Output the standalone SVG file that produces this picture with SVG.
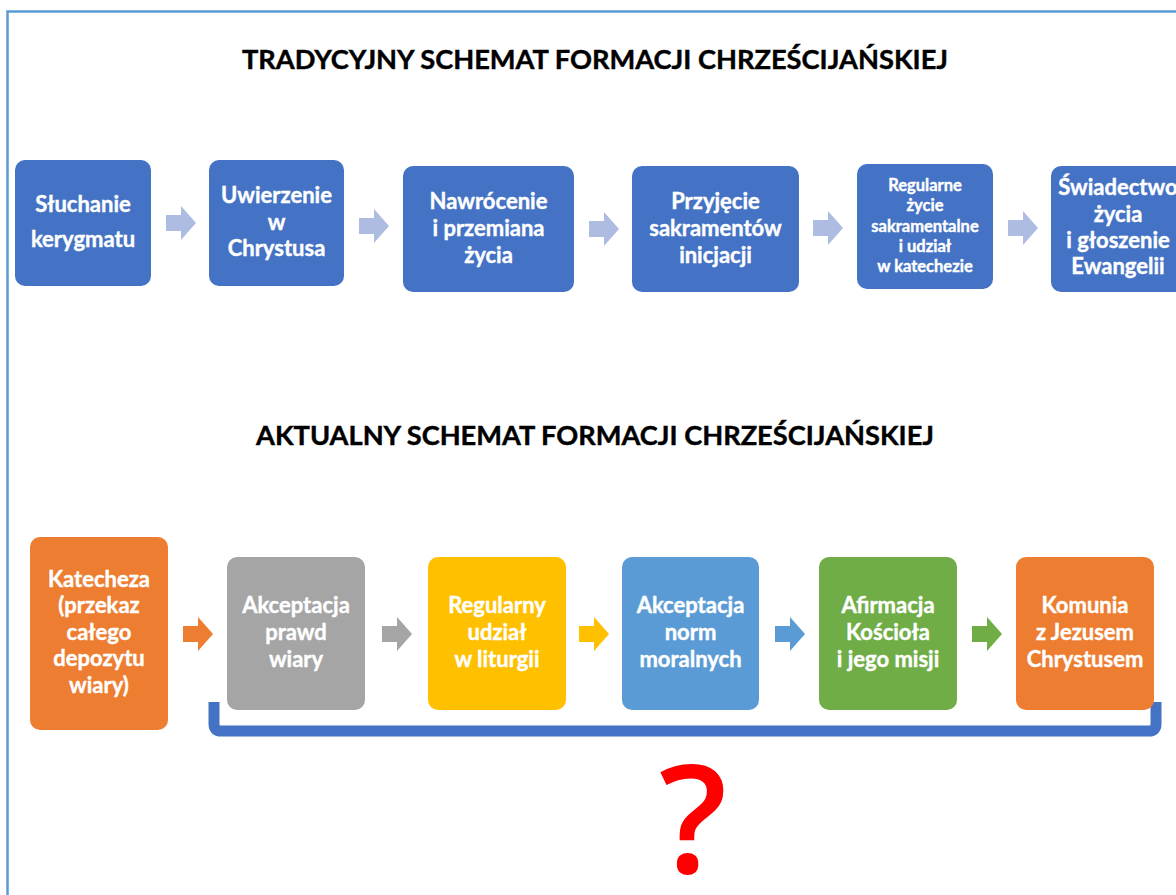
<svg xmlns="http://www.w3.org/2000/svg" width="1176" height="895" viewBox="0 0 1176 895">
<defs>
<style>
.t{font-family:Lato,"Open Sans","Liberation Sans",sans-serif;font-weight:bold;fill:#fff;stroke:#fff;stroke-width:0.4;text-anchor:middle}
.big{font-size:22px}
.sm{font-size:16.5px}
.title{font-family:Lato,"Open Sans","Liberation Sans",sans-serif;font-weight:bold;font-size:26px;fill:#000;stroke:#000;stroke-width:0.4;text-anchor:middle}
.blue{fill:#4472C4}
.tar{fill:#ADBCE0}
</style>
<path id="arr" d="M0,9 H15 V0 L30,17 L15,34 V25 H0 Z"/>
</defs>
<rect width="1176" height="895" fill="#fff"/>
<path d="M7.5,895 V11.5 H1176" fill="none" stroke="#5B9BD5" stroke-width="2.5"/>

<text class="title" x="595" y="69" textLength="706" lengthAdjust="spacingAndGlyphs">TRADYCYJNY SCHEMAT FORMACJI CHRZEŚCIJAŃSKIEJ</text>
<text class="title" x="595" y="445" textLength="678" lengthAdjust="spacingAndGlyphs">AKTUALNY SCHEMAT FORMACJI CHRZEŚCIJAŃSKIEJ</text>

<g id="connectors">
<use href="#arr" class="tar" x="166" y="206"/>
<use href="#arr" class="tar" x="359" y="209"/>
<use href="#arr" class="tar" x="589" y="212"/>
<use href="#arr" class="tar" x="813" y="211"/>
<use href="#arr" class="tar" x="1008" y="211"/>
<use href="#arr" fill="#ED7D31" x="183" y="617"/>
<use href="#arr" fill="#A5A5A5" x="382" y="617"/>
<use href="#arr" fill="#FFC000" x="579" y="617"/>
<use href="#arr" fill="#5B9BD5" x="775" y="617"/>
<use href="#arr" fill="#70AD47" x="972" y="617"/>
<path d="M214,702 V724 Q214,731 221,731 H1149 Q1156,731 1156,724 V702" fill="none" stroke="#4472C4" stroke-width="11"/>
</g>

<g id="n1"><rect class="blue" x="15" y="160" width="136" height="126" rx="10"/>
<text class="t big"><tspan x="83" y="212">Słuchanie</tspan><tspan x="83" y="247">kerygmatu</tspan></text></g>
<g id="n2"><rect class="blue" x="209" y="160" width="135" height="126" rx="10"/>
<text class="t big"><tspan x="276.5" y="203">Uwierzenie</tspan><tspan x="276.5" y="230">w</tspan><tspan x="276.5" y="256">Chrystusa</tspan></text></g>
<g id="n3"><rect class="blue" x="403" y="166" width="171" height="126" rx="10"/>
<text class="t big"><tspan x="488.5" y="209">Nawrócenie</tspan><tspan x="488.5" y="236">i przemiana</tspan><tspan x="488.5" y="263">życia</tspan></text></g>
<g id="n4"><rect class="blue" x="632" y="166" width="167" height="126" rx="10"/>
<text class="t big"><tspan x="715.5" y="209">Przyjęcie</tspan><tspan x="715.5" y="236">sakramentów</tspan><tspan x="715.5" y="263">inicjacji</tspan></text></g>
<g id="n5"><rect class="blue" x="857" y="164" width="136" height="125" rx="10"/>
<text class="t sm"><tspan x="925" y="191">Regularne</tspan><tspan x="925" y="211">życie</tspan><tspan x="925" y="232">sakramentalne</tspan><tspan x="925" y="252">i udział</tspan><tspan x="925" y="272">w katechezie</tspan></text></g>
<g id="n6"><rect class="blue" x="1051" y="166" width="140" height="126" rx="10"/>
<text class="t big"><tspan x="1118" y="195">Świadectwo</tspan><tspan x="1118" y="222">życia</tspan><tspan x="1118" y="248">i głoszenie</tspan><tspan x="1118" y="274">Ewangelii</tspan></text></g>

<g id="m1"><rect fill="#ED7D31" x="30" y="537" width="138" height="193" rx="10"/>
<text class="t big"><tspan x="99" y="587">Katecheza</tspan><tspan x="99" y="613">(przekaz</tspan><tspan x="99" y="640">całego</tspan><tspan x="99" y="666">depozytu</tspan><tspan x="99" y="693">wiary)</tspan></text></g>
<g id="m2"><rect fill="#A5A5A5" x="227" y="557" width="138" height="153" rx="10"/>
<text class="t big"><tspan x="296" y="613">Akceptacja</tspan><tspan x="296" y="640">prawd</tspan><tspan x="296" y="667">wiary</tspan></text></g>
<g id="m3"><rect fill="#FFC000" x="428" y="557" width="138" height="153" rx="10"/>
<text class="t big"><tspan x="497" y="613">Regularny</tspan><tspan x="497" y="640">udział</tspan><tspan x="497" y="667">w liturgii</tspan></text></g>
<g id="m4"><rect fill="#5B9BD5" x="622" y="557" width="137" height="153" rx="10"/>
<text class="t big"><tspan x="690.5" y="613">Akceptacja</tspan><tspan x="690.5" y="640">norm</tspan><tspan x="690.5" y="667">moralnych</tspan></text></g>
<g id="m5"><rect fill="#70AD47" x="819" y="557" width="138" height="153" rx="10"/>
<text class="t big"><tspan x="888" y="613">Afirmacja</tspan><tspan x="888" y="640">Kościoła</tspan><tspan x="888" y="667">i jego misji</tspan></text></g>
<g id="m6"><rect fill="#ED7D31" x="1016" y="557" width="138" height="153" rx="10"/>
<text class="t big"><tspan x="1085" y="613">Komunia</tspan><tspan x="1085" y="640">z Jezusem</tspan><tspan x="1085" y="667">Chrystusem</tspan></text></g>

<text x="693" y="873" font-family="'Open Sans','Liberation Sans',sans-serif" font-weight="600" font-size="150" fill="#FF0000" text-anchor="middle">?</text>
</svg>
